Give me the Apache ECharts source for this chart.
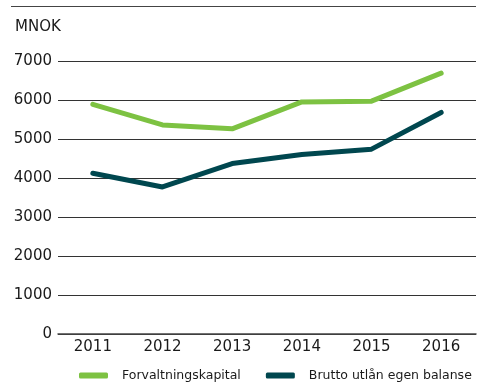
<!DOCTYPE html>
<html>
<head>
<meta charset="utf-8">
<script src="https://cdn.jsdelivr.net/npm/echarts@6/dist/echarts.min.js"></script>
<style>
  html, body { margin: 0; padding: 0; background: #fff; }
  #chart { width: 481px; height: 382px; }
</style>
</head>
<body>
<div id="chart"></div>
<script>
// Years on the category axis
const years = ['2011', '2012', '2013', '2014', '2015', '2016'];
// Total assets under management (MNOK)
const forvaltningskapital = [5890, 5360, 5260, 5950, 5970, 6690];
// Gross lending on own balance sheet (MNOK)
const bruttoUtlan = [4120, 3770, 4370, 4600, 4740, 5680];
// Value axis ticks
const yMin = 0, yMax = 7000, yStep = 1000;

const FONT = '"DejaVu Sans", Verdana, sans-serif';
const GREEN = '#7dc242';
const DARK = '#00474f';

const chart = echarts.init(document.getElementById('chart'), null, { renderer: 'canvas' });

chart.setOption({
  animation: false,
  backgroundColor: '#fff',
  grid: { left: 58, right: 5, top: 61, bottom: 48, containLabel: false },
  graphic: [
    { type: 'line', shape: { x1: 11, y1: 6.5, x2: 476, y2: 6.5 },
      style: { stroke: '#444', lineWidth: 1.2 } },
    { type: 'text', left: 15, top: 20,
      style: { text: 'MNOK', font: '15px ' + FONT, fill: '#1a1a1a' } }
  ],
  legend: {
    left: 79, top: 369, width: 420, padding: 0,
    itemWidth: 29, itemHeight: 6, itemGap: 25,
    icon: 'roundRect',
    textStyle: { fontFamily: FONT, fontSize: 12.5, color: '#1a1a1a', padding: [0, 0, 0, 9] },
    data: ['Forvaltningskapital', 'Brutto utlån egen balanse']
  },
  xAxis: {
    type: 'category',
    data: years,
    boundaryGap: true,
    axisLine: { show: true, lineStyle: { color: '#444', width: 1.5 } },
    axisTick: { show: false },
    axisLabel: { fontFamily: FONT, fontSize: 15, color: '#1a1a1a', margin: 6 }
  },
  yAxis: {
    type: 'value',
    min: yMin, max: yMax, interval: yStep,
    axisLine: { show: false },
    axisTick: { show: false },
    splitLine: { show: true, lineStyle: { color: '#333', width: 1 } },
    axisLabel: { fontFamily: FONT, fontSize: 15, color: '#1a1a1a', margin: 6,
                 formatter: v => String(v) }
  },
  series: [
    {
      name: 'Forvaltningskapital', type: 'line', data: forvaltningskapital,
      symbol: 'none', color: GREEN,
      lineStyle: { width: 5, color: GREEN, cap: 'round', join: 'round' }
    },
    {
      name: 'Brutto utlån egen balanse', type: 'line', data: bruttoUtlan,
      symbol: 'none', color: DARK,
      lineStyle: { width: 5, color: DARK, cap: 'round', join: 'round' }
    }
  ]
});
</script>
</body>
</html>
